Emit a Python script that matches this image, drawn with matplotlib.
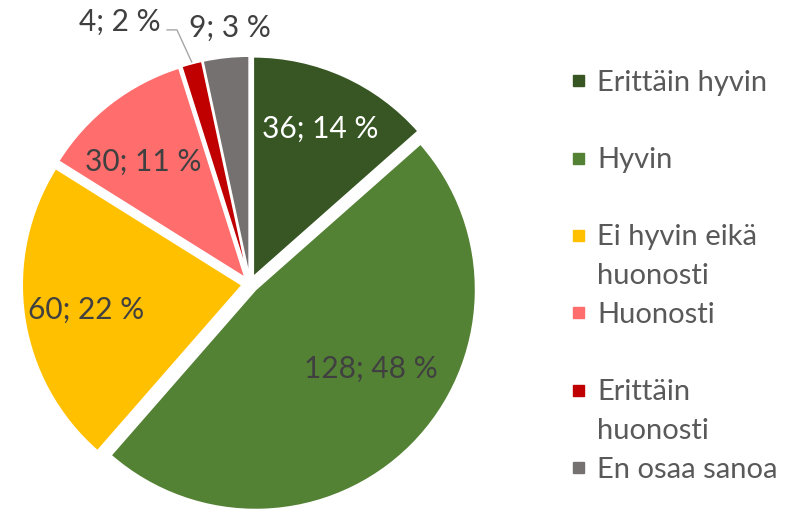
import matplotlib.pyplot as plt
from matplotlib.patches import Rectangle
import numpy as np

plt.rcParams['font.family'] = ['Lato', 'DejaVu Sans']

categories = ['Erittäin hyvin', 'Hyvin', 'Ei hyvin eikä\nhuonosti', 'Huonosti',
              'Erittäin\nhuonosti', 'En osaa sanoa']
values = [36, 128, 60, 30, 4, 9]
percents = [14, 48, 22, 11, 2, 3]
colors = ['#375623', '#548235', '#FFC000', '#FF6D6D', '#C00000', '#767171']
label_colors = ['white', '#404040', '#404040', '#404040', '#404040', '#404040']

W, H = 792, 510
fig = plt.figure(figsize=(W/100, H/100), dpi=100)
fs = 21
fs_lab = 21.5

# pie geometry in pixels
R = 220
cx, cy = 250, H - 285
ax = fig.add_axes([(cx - 1.2*R)/W, (cy - 1.2*R)/H, 2.4*R/W, 2.4*R/H])

wedges, _ = ax.pie(values, colors=colors, startangle=90, counterclock=False,
                   explode=[0.036]*len(values),
                   wedgeprops=dict(edgecolor='white', linewidth=1.2))
ax.set_xlim(-1.2, 1.2)
ax.set_ylim(-1.2, 1.2)
ax.axis('off')

labels = ['%d; %d %%' % (v, p) for v, p in zip(values, percents)]

# inside labels: radius fraction and angle shift from wedge middle
lab_r = [0.78, 0.67, 0.755, 0.74]
lab_shift = [0, 10, 0, 3]
for i in range(4):
    w = wedges[i]
    th = np.radians((w.theta1 + w.theta2)/2 + lab_shift[i])
    x = lab_r[i]*np.cos(th)
    y = lab_r[i]*np.sin(th)
    ax.text(x, y, labels[i], ha='center', va='center', fontsize=fs_lab,
            color=label_colors[i], clip_on=False)

# outside labels
ax.text(-0.59, 1.195, labels[4], ha='center', va='center', fontsize=fs_lab,
        color='#404040', clip_on=False)
ax.text(-0.09, 1.17, labels[5], ha='center', va='center', fontsize=fs_lab,
        color='#404040', clip_on=False)
ax.plot([-0.265, -0.332, -0.377], [1.009, 1.155, 1.155], color='#A6A6A6',
        lw=1, clip_on=False)

# legend: each entry gets two line slots
y0, pitch = 81.7, 38.7
for i in range(len(categories)):
    yc = y0 + 2*i*pitch
    fig.patches.append(Rectangle((573/W, (H - yc - 5.5)/H), 11/W, 11/H,
                                 transform=fig.transFigure, color=colors[i]))
    for k, line in enumerate(categories[i].split('\n')):
        yl = H - (yc + k*pitch) - 9
        fig.text(597/W, yl/H, line, ha='left', va='baseline',
                 fontsize=fs, color='#595959')

fig.savefig('out.png', dpi=100)
